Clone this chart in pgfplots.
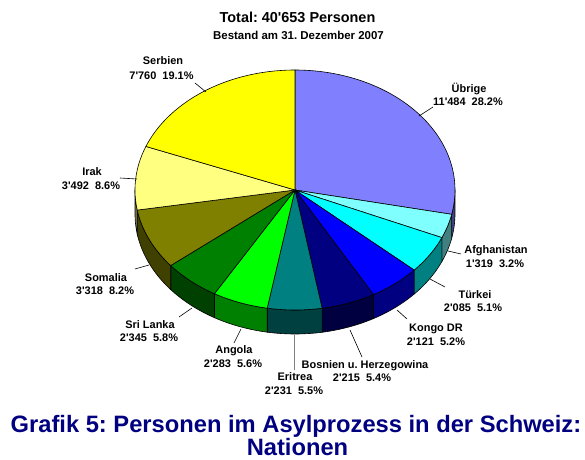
\documentclass[border=0pt]{standalone}
\usepackage{pgfplots}
\pgfplotsset{compat=1.18}
\usepackage{pgfplotstable}
\usepgfplotslibrary{fillbetween}
\usepackage{fontspec}
\setmainfont{Liberation Sans}
\frenchspacing
\newcommand\q{\textquotesingle}
\newcommand\nums[2]{#1\hspace{0.556em}#2}

% slice values, clockwise from 12 o'clock
\pgfplotstableread{
name value
Uebrige 11484
Afghanistan 1319
Tuerkei 2085
KongoDR 2121
Bosnien 2215
Eritrea 2231
Angola 2283
SriLanka 2345
Somalia 3318
Irak 3492
Serbien 7760
}\piedata

\xdef\total{0}
\pgfplotsforeachungrouped \i in {0,...,10}{%
  \pgfplotstablegetelem{\i}{value}\of\piedata
  \xdef\total{\fpeval{\total+\pgfplotsretval}}%
}
\xdef\cum{0}
\pgfplotsforeachungrouped \i in {0,...,10}{%
  \pgfplotstablegetelem{\i}{value}\of\piedata
  \expandafter\xdef\csname sA\i\endcsname{\fpeval{round(90-360*\cum/\total,4)}}%
  \xdef\cum{\fpeval{\cum+\pgfplotsretval}}%
  \expandafter\xdef\csname sB\i\endcsname{\fpeval{round(90-360*\cum/\total,4)}}%
  \expandafter\xdef\csname lo\i\endcsname{\fpeval{max(\csname sB\i\endcsname,-180)}}%
  \expandafter\xdef\csname hi\i\endcsname{\fpeval{min(\csname sA\i\endcsname,0)}}%
}

\definecolor{c0}{HTML}{8080FF}\definecolor{s0}{HTML}{404080}
\definecolor{c1}{HTML}{80FFFF}\definecolor{s1}{HTML}{408080}
\definecolor{c2}{HTML}{00FFFF}\definecolor{s2}{HTML}{008080}
\definecolor{c3}{HTML}{0000FF}\definecolor{s3}{HTML}{000080}
\definecolor{c4}{HTML}{000080}\definecolor{s4}{HTML}{000040}
\definecolor{c5}{HTML}{008080}\definecolor{s5}{HTML}{004040}
\definecolor{c6}{HTML}{00FF00}\definecolor{s6}{HTML}{008000}
\definecolor{c7}{HTML}{008000}\definecolor{s7}{HTML}{004000}
\definecolor{c8}{HTML}{808000}\definecolor{s8}{HTML}{404000}
\definecolor{c9}{HTML}{FFFF80}\definecolor{s9}{HTML}{808040}
\definecolor{c10}{HTML}{FFFF00}
\definecolor{navy}{HTML}{000080}

\newcommand\lfont{\bfseries\fontsize{11}{13}\selectfont}
\newcommand\lab[6]{%
  \node[anchor=base, inner sep=0pt, font=\lfont] at (axis cs:#1,#2) {#3};
  \node[anchor=base, inner sep=0pt, font=\lfont] at (axis cs:#4,#5) {#6};}

\begin{document}
\begin{tikzpicture}
\begin{axis}[x=1bp, y=1bp, xmin=0, xmax=585, ymin=0, ymax=460,
  scale only axis, hide axis, clip=false]

% side faces (front half of the cylinder)
\pgfplotsinvokeforeach{0,...,9}{
  \edef\lo{\csname lo#1\endcsname}\edef\hi{\csname hi#1\endcsname}
  \addplot[draw=none, name path=st#1, domain=\lo:\hi, samples=40, variable=\t]
    ({295+160*cos(\t)},{270+120*sin(\t)});
  \addplot[draw=none, name path=sb#1, domain=\lo:\hi, samples=40, variable=\t]
    ({295+160*cos(\t)},{246+120*sin(\t)});
  \addplot[fill=s#1, draw=black, line width=0.6bp] fill between[of=st#1 and sb#1];
}

% top faces
\pgfplotsinvokeforeach{0,...,10}{
  \edef\a{\csname sB#1\endcsname}\edef\b{\csname sA#1\endcsname}
  \addplot[fill=c#1, draw=black, line width=0.6bp, domain=\a:\b, samples=80, variable=\t]
    ({295+160*cos(\t)},{270+120*sin(\t)}) -- (axis cs:295,270) -- cycle;
}

% leader lines
\addplot[black, line width=0.6bp] coordinates {(195,377) (206,368)};
\addplot[black, line width=0.6bp] coordinates {(433,353) (419,344)};
\addplot[black, line width=0.6bp] coordinates {(120,282) (137,281)};
\addplot[black, line width=0.6bp] coordinates {(135,191) (149,195)};
\addplot[black, line width=0.6bp] coordinates {(179,143) (192,152)};
\addplot[black, line width=0.6bp] coordinates {(234,117) (241,131)};
\addplot[gray, line width=0.8bp] coordinates {(294,125) (294,90)};
\addplot[black, line width=0.6bp] coordinates {(350,130) (362,103)};
\addplot[black, line width=0.6bp] coordinates {(397,150) (407,141)};
\addplot[black, line width=0.6bp] coordinates {(430,181) (445,173)};
\addplot[black, line width=0.6bp] coordinates {(448,209) (461,206)};

% labels
\lab{163}{395}{Serbien}{161.5}{380.5}{\nums{7\q760}{19.1\%}}
\lab{469}{368}{Übrige}{468}{354.5}{\nums{11\q484}{28.2\%}}
\lab{92}{285}{Irak}{91}{270.5}{\nums{3\q492}{8.6\%}}
\lab{106}{179}{Somalia}{105}{166}{\nums{3\q318}{8.2\%}}
\lab{150}{132}{Sri Lanka}{149}{119}{\nums{2\q345}{5.8\%}}
\lab{234}{107}{Angola}{233}{93}{\nums{2\q283}{5.6\%}}
\lab{295}{79.5}{Eritrea}{294}{65.5}{\nums{2\q231}{5.5\%}}
\lab{365}{92}{Bosnien u. Herzegowina}{362}{79}{\nums{2\q215}{5.4\%}}
\lab{436}{129}{Kongo DR}{436}{115}{\nums{2\q121}{5.2\%}}
\lab{475}{162}{Türkei}{473}{149}{\nums{2\q085}{5.1\%}}
\lab{496}{206.5}{Afghanistan}{495}{193}{\nums{1\q319}{3.2\%}}

% titles
\node[anchor=base, inner sep=0pt, font=\bfseries\fontsize{14.5}{17}\selectfont]
  at (axis cs:297.5,437) {Total: 40\q653 Personen};
\node[anchor=base, inner sep=0pt, font=\bfseries\fontsize{11.5}{14}\selectfont]
  at (axis cs:298.5,420) {Bestand am 31. Dezember 2007};
\node[anchor=base, inner sep=0pt, text=navy, font=\bfseries\fontsize{23.8}{28}\selectfont]
  at (axis cs:296,28) {Grafik 5: Personen im Asylprozess in der Schweiz:};
\node[anchor=base, inner sep=0pt, text=navy, font=\bfseries\fontsize{23.8}{28}\selectfont]
  at (axis cs:297.5,5) {Nationen};
\end{axis}
\pgfresetboundingbox
\useasboundingbox (0,0) rectangle (585bp,460bp);
\end{tikzpicture}
\end{document}
